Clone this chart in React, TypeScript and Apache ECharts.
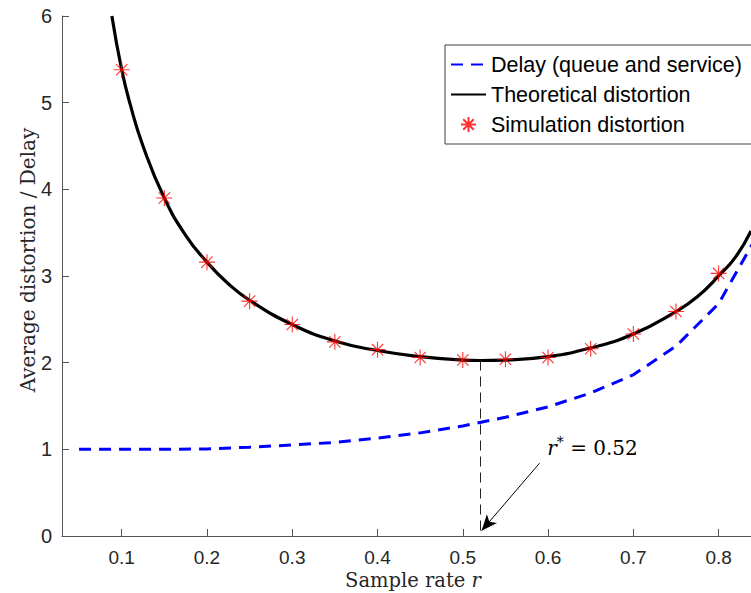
import React, { useEffect, useRef } from 'react';
import * as echarts from 'echarts';

// Delay (queue and service)
const delayRate = [0.05, 0.1, 0.15, 0.2, 0.25, 0.3, 0.35, 0.4, 0.45, 0.5, 0.55, 0.6, 0.65, 0.7, 0.75, 0.8, 0.85];
const delayValue = [1.0, 1.0, 1.0, 1.005, 1.025, 1.05, 1.08, 1.13, 1.19, 1.27, 1.37, 1.49, 1.65, 1.86, 2.19, 2.68, 3.55];

// Theoretical distortion
const theoryRate = [0.0885, 0.1, 0.11, 0.125, 0.15, 0.175, 0.2, 0.225, 0.25, 0.3, 0.35, 0.4, 0.45, 0.5, 0.52, 0.55, 0.6, 0.65, 0.7, 0.75, 0.775, 0.8, 0.82, 0.838];
const theoryValue = [6.0, 5.38, 4.98, 4.5, 3.9, 3.47, 3.16, 2.91, 2.72, 2.44, 2.25, 2.14, 2.07, 2.03, 2.025, 2.03, 2.07, 2.17, 2.33, 2.59, 2.76, 3.0, 3.22, 3.52];

// Simulation distortion
const simRate = [0.1, 0.15, 0.2, 0.25, 0.3, 0.35, 0.4, 0.45, 0.5, 0.55, 0.6, 0.65, 0.7, 0.75, 0.8];
const simValue = [5.38, 3.9, 3.16, 2.71, 2.44, 2.24, 2.15, 2.06, 2.03, 2.04, 2.06, 2.16, 2.33, 2.59, 3.03];

const xTicks = [0.1, 0.2, 0.3, 0.4, 0.5, 0.6, 0.7, 0.8];
const xTickLabels = ['0.1', '0.2', '0.3', '0.4', '0.5', '0.6', '0.7', '0.8'];
const yTickLabels = ['0', '1', '2', '3', '4', '5', '6'];

const optimalRate = 0.52;
const optimalValue = 2.025;
const arrowTail = [0.59, 0.84];
const arrowTip = [0.522, 0.06];
const annotationAt = [0.5985, 1.015];

const seriesNames = ['Delay (queue and service)', 'Theoretical distortion', 'Simulation distortion'];

const zip = (a: number[], b: number[]) => a.map((v, i) => [v, b[i]]);

const STAR = 'path://M8 0 L8 16 M0 8 L16 8 M2.34 2.34 L13.66 13.66 M2.34 13.66 L13.66 2.34';
const SANS = 'Liberation Sans, Arial, Helvetica, sans-serif';
const SERIF = 'DejaVu Serif, serif';
const AX = '#262626';

export default function App() {
  const ref = useRef<HTMLDivElement>(null);
  useEffect(() => {
    if (!ref.current) return;
    const chart = echarts.init(ref.current, undefined, { renderer: 'svg' });
    chart.setOption({
      animation: false,
      backgroundColor: '#ffffff',
      grid: { left: 62, top: 16, right: 0, bottom: 57, containLabel: false, outerBoundsMode: 'none' },
      legend: {
        left: 445,
        top: 45,
        orient: 'vertical',
        data: [
          { name: seriesNames[0], itemStyle: { opacity: 0 } },
          { name: seriesNames[1], itemStyle: { opacity: 0 } },
          { name: seriesNames[2] },
        ],
        itemWidth: 35,
        itemHeight: 15,
        itemGap: 8,
        padding: [8.5, 12, 8.5, 5],
        borderColor: '#404040',
        borderWidth: 1,
        backgroundColor: '#ffffff',
        selectedMode: false,
        textStyle: { fontFamily: SANS, fontSize: 21.5, color: '#000', lineHeight: 21 },
      },
      xAxis: {
        type: 'value',
        min: 0.03,
        max: 0.838,
        name: '{n|Sample rate }{i|r}',
        nameLocation: 'middle',
        nameMoveOverlap: false,
        nameGap: 36,
        nameTextStyle: {
          padding: [0, 0, 0, 13],
          rich: {
            n: { fontFamily: SERIF, fontSize: 19.5, color: AX, lineHeight: 16 },
            i: { fontFamily: SERIF, fontSize: 19.5, fontStyle: 'italic', color: AX, lineHeight: 16 },
          },
        },
        axisLine: { show: true, lineStyle: { color: '#555', width: 1 } },
        axisTick: { show: true, inside: true, length: 7, customValues: xTicks, lineStyle: { color: '#555' } },
        axisLabel: {
          customValues: xTicks,
          margin: 13,
          lineHeight: 16,
          fontFamily: SANS,
          fontSize: 19,
          color: AX,
          formatter: (v: number) => xTickLabels[xTicks.findIndex((t) => Math.abs(t - v) < 1e-6)] ?? '',
        },
        splitLine: { show: false },
      },
      yAxis: {
        type: 'value',
        min: 0,
        max: 6,
        interval: 1,
        name: 'Average distortion / Delay',
        nameLocation: 'middle',
        nameMoveOverlap: false,
        nameGap: 24,
        nameTextStyle: { fontFamily: SERIF, fontSize: 20, color: AX, padding: [0, 0, 0, 32] },
        axisLine: { show: true, lineStyle: { color: '#555', width: 1 } },
        axisTick: { show: true, inside: true, length: 7, lineStyle: { color: '#555' } },
        axisLabel: {
          margin: 10,
          fontFamily: SANS,
          fontSize: 20,
          color: AX,
          formatter: (v: number) => yTickLabels[Math.round(v)] ?? '',
        },
        splitLine: { show: false },
      },
      series: [
        {
          name: seriesNames[0],
          type: 'line',
          data: zip(delayRate, delayValue),
          symbol: 'none',
          lineStyle: { color: '#0000ff', width: 3, type: [12, 8] },
          itemStyle: { color: '#0000ff' },
          emphasis: { disabled: true },
          z: 2,
        },
        {
          name: seriesNames[1],
          type: 'line',
          data: zip(theoryRate, theoryValue),
          symbol: 'none',
          smooth: 0.5,
          lineStyle: { color: '#000000', width: 3.2 },
          itemStyle: { color: '#000000' },
          emphasis: { disabled: true },
          z: 3,
          markLine: {
            silent: true,
            symbol: ['none', 'none'],
            label: { show: false },
            emphasis: { disabled: true },
            data: [
              [
                { coord: [optimalRate, optimalValue], symbol: 'none', lineStyle: { color: '#222', width: 1, type: [10, 6] } },
                { coord: [optimalRate, 0], symbol: 'none', lineStyle: { color: '#222', width: 1, type: [10, 6] } },
              ],
              [
                { coord: arrowTail, symbol: 'none', lineStyle: { color: '#000', width: 1, type: 'solid' } },
                { coord: arrowTip, symbol: 'arrow', symbolSize: [10, 16], lineStyle: { color: '#000', width: 1, type: 'solid' } },
              ],
            ],
          },
          markPoint: {
            silent: true,
            symbol: 'circle',
            symbolSize: 1,
            itemStyle: { color: 'rgba(0,0,0,0)' },
            label: {
              show: true,
              position: 'right',
              distance: 0,
              formatter: '{i|r}{s|*}{n| = 0.52}',
              rich: {
                i: { fontFamily: SERIF, fontSize: 20, fontStyle: 'italic', color: '#000' },
                s: { fontFamily: SERIF, fontSize: 14, color: '#000', padding: [0, 0, 12, 0] },
                n: { fontFamily: SERIF, fontSize: 20, color: '#000' },
              },
            },
            data: [{ coord: annotationAt }],
          },
        },
        {
          name: seriesNames[2],
          type: 'scatter',
          data: zip(simRate, simValue),
          symbol: STAR,
          symbolSize: 16,
          itemStyle: { color: 'rgba(255,0,0,0)', borderColor: '#ff0000', borderWidth: 1.1 },
          emphasis: { disabled: true },
          z: 4,
        },
      ],
    });
    return () => chart.dispose();
  }, []);
  return <div ref={ref} style={{ position: 'fixed', left: 0, top: 0, width: 751, height: 593 }} />;
}
